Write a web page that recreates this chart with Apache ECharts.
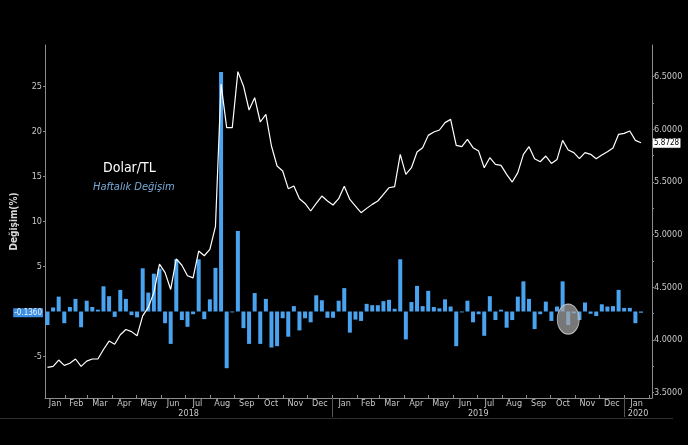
<!DOCTYPE html>
<html><head><meta charset="utf-8">
<script src="https://cdn.jsdelivr.net/npm/echarts@6/dist/echarts.min.js"></script>
<style>html,body{margin:0;padding:0;background:#000}#c{width:688px;height:445px}</style>
</head><body><div id="c"></div>
<script>
// ---- data ----
const firstWeek = Date.UTC(2018, 0, 10);
const WEEK_MS = 7 * 864e5;
const barValues = [
  -1.5, 0.45, 1.65, -1.3, 0.5, 1.4, -1.75, 1.2, 0.5, 0.2,
  2.8, 1.7, -0.6, 2.4, 1.4, -0.4, -0.65, 4.8, 2.1, 4.2,
  4.75, -1.3, -3.6, 5.8, -0.95, -1.7, -0.3, 5.8, -0.85, 1.35,
  4.85, 26.6, -6.3, -0.1, 8.95, -1.85, -3.6, 2.05, -3.6, 1.4,
  -4.0, -3.85, -0.75, -2.8, 0.6, -2.1, -0.75, -1.2, 1.8, 1.25,
  -0.7, -0.7, 1.2, 2.6, -2.35, -0.9, -1.05, 0.85, 0.7, 0.7,
  1.15, 1.3, 0.3, 5.8, -3.1, 1.05, 2.85, 0.6, 2.3, 0.5,
  0.35, 1.35, 0.55, -3.85, -0.1, 1.2, -1.2, -0.3, -2.7, 1.7,
  -0.95, 0.2, -1.8, -0.95, 1.65, 3.35, 1.4, -1.95, -0.3, 1.1,
  -1.05, 0.55, 3.35, -1.5, -0.2, -0.95, 1.0, -0.25, -0.5, 0.8,
  0.55, 0.6, 2.4, 0.4, 0.4, -1.3, -0.136
];
const priceValues = [
  3.74, 3.75, 3.81, 3.76, 3.78, 3.82, 3.75, 3.80, 3.82, 3.82,
  3.91, 3.99, 3.96, 4.05, 4.10, 4.08, 4.04, 4.23, 4.31, 4.45,
  4.72, 4.64, 4.48, 4.77, 4.71, 4.61, 4.59, 4.845, 4.80, 4.86,
  5.08, 6.43, 6.016, 6.016, 6.548, 6.412, 6.184, 6.301, 6.07, 6.143,
  5.842, 5.652, 5.605, 5.437, 5.462, 5.342, 5.297, 5.225, 5.297, 5.367,
  5.32, 5.282, 5.342, 5.46, 5.335, 5.272, 5.209, 5.25, 5.288, 5.32,
  5.383, 5.446, 5.456, 5.763, 5.573, 5.636, 5.785, 5.826, 5.943, 5.975,
  5.994, 6.064, 6.095, 5.848, 5.836, 5.905, 5.826, 5.794, 5.636, 5.731,
  5.668, 5.658, 5.573, 5.50, 5.589, 5.763, 5.836, 5.722, 5.693, 5.747,
  5.677, 5.715, 5.896, 5.804, 5.779, 5.722, 5.779, 5.763, 5.722, 5.757,
  5.788, 5.823, 5.953, 5.962, 5.984, 5.896, 5.8728
];
const monthNames = ['Jan','Feb','Mar','Apr','May','Jun','Jul','Aug','Sep','Oct','Nov','Dec'];
const leftTickValues = [-5, 5, 10, 15, 20, 25];
const rightLabelValues = [3.5, 4.0, 4.5, 5.0, 5.5, 6.0, 6.5];
const rightTickValues = [3.5, 3.75, 4.0, 4.25, 4.5, 4.75, 5.0, 5.25, 5.5, 5.75, 6.0, 6.25, 6.5];
const highlightWeek = 93;      // week index circled in the reference
const highlightLevel = -0.85;  // vertical centre of the circle (in %)
const titleText = 'Dolar/TL';
const subTitleText = 'Haftalık Değişim';
const leftAxisName = 'Değişim(%)';

const lastBar = barValues[barValues.length - 1];
const lastPrice = priceValues[priceValues.length - 1];

// ---- axis extents ----
const axisStart = Date.UTC(2018, 0, 6, 21);
const axisEnd = Date.UTC(2020, 1, 4, 18);

const weekDates = barValues.map((_, i) => firstWeek + i * WEEK_MS);

const monthStarts = [], monthMids = [];
for (let y = 2018; y <= 2020; y++) {
  for (let m = 0; m < 12; m++) {
    const s = Date.UTC(y, m, 1), e = Date.UTC(y, m + 1, 1);
    if (e <= axisStart || s >= axisEnd) continue;
    if (s > axisStart) monthStarts.push(s);
    const a = Math.max(s, axisStart), b = Math.min(e, axisEnd);
    if (b - a > 10 * 864e5) monthMids.push((a + b) / 2);
  }
}
const yearStarts = [Date.UTC(2019, 0, 1), Date.UTC(2020, 0, 1)];
const yearMids = [2018, 2019, 2020].map(y => {
  const a = Math.max(Date.UTC(y, 0, 1), axisStart), b = Math.min(Date.UTC(y + 1, 0, 1), axisEnd);
  return (a + b) / 2;
});

const FONT = "'Liberation Sans Narrow','DejaVu Sans Condensed','Liberation Sans',sans-serif";
const AX = '#8c8c8c', LAB = '#c8c8c8';
const NOLINE = {color: 'rgba(0,0,0,0)', width: 0};

const chart = echarts.init(document.getElementById('c'), null, {renderer: 'canvas'});
chart.setOption({
  backgroundColor: '#000',
  animation: false,
  textStyle: {fontFamily: FONT},
  title: [
    {text: titleText, left: 103, top: 161, padding: 0, textStyle: {color: '#fff', fontSize: 14, fontWeight: 'normal', fontFamily: FONT}},
    {text: subTitleText, left: 93, top: 182, padding: 0, textStyle: {color: '#7aaad8', fontSize: 11, fontStyle: 'italic', fontWeight: 'normal', fontFamily: FONT}}
  ],
  grid: {left: 45, right: 36, top: 45, bottom: 47, containLabel: false},
  xAxis: [
    {
      type: 'value', min: axisStart, max: axisEnd, position: 'bottom', scale: true,
      axisLine: {show: true, onZero: false, lineStyle: {color: AX, width: 1}},
      axisTick: {show: true, inside: true, length: 3, customValues: monthStarts, lineStyle: {color: AX}},
      axisLabel: {customValues: monthMids, formatter: v => monthNames[new Date(v).getUTCMonth()],
        color: LAB, fontSize: 9, margin: 1, fontFamily: FONT},
      splitLine: {show: false}
    },
    {
      type: 'value', min: axisStart, max: axisEnd, position: 'bottom', scale: true,
      axisLine: {show: false, onZero: false},
      axisTick: {show: true, length: 19, customValues: yearStarts, lineStyle: {color: '#555'}},
      axisLabel: {customValues: yearMids, formatter: v => String(new Date(v).getUTCFullYear()),
        color: LAB, fontSize: 9, margin: 11, fontFamily: FONT},
      splitLine: {show: false}
    }
  ],
  yAxis: [
    {
      type: 'value', position: 'left', min: -9.611, max: 29.611,
      axisLine: {show: true, onZero: false, lineStyle: {color: AX}},
      axisTick: {show: true, length: 2, customValues: leftTickValues, lineStyle: {color: AX}},
      axisLabel: {customValues: leftTickValues, color: LAB, fontSize: 9, margin: 3, fontFamily: FONT},
      splitLine: {show: false},
      name: leftAxisName, nameLocation: 'middle', nameRotate: 90, nameGap: 26,
      nameTextStyle: {color: '#d9d9d9', fontWeight: 'bold', fontSize: 10, fontFamily: FONT}
    },
    {
      type: 'value', position: 'right', min: 3.4497, max: 6.801,
      axisLine: {show: true, onZero: false, lineStyle: {color: AX}},
      axisTick: {show: true, length: 2, customValues: rightTickValues, lineStyle: {color: AX}},
      axisLabel: {customValues: rightLabelValues, formatter: v => v.toFixed(4), color: LAB, fontSize: 9, margin: 2, fontFamily: FONT},
      splitLine: {show: false}
    }
  ],
  series: [
    {
      type: 'bar', xAxisIndex: 0, yAxisIndex: 0, barWidth: 4, z: 2,
      data: weekDates.map((d, i) => [d, barValues[i]]),
      itemStyle: {color: '#4aa3ef'},
      markLine: {
        silent: true, symbol: ['none', 'none'], animation: false,
        lineStyle: NOLINE,
        label: {show: true, position: 'start', distance: 2, formatter: () => lastBar.toFixed(4),
          backgroundColor: '#3d8fe3', color: '#eaf3ff', fontSize: 8, padding: [1, 1, 0, 1], fontFamily: FONT},
        data: [{yAxis: lastBar}]
      },
      markPoint: {
        silent: true, animation: false,
        data: [{coord: [weekDates[highlightWeek], highlightLevel], symbol: 'circle', symbolSize: [22, 30]}],
        itemStyle: {color: 'rgba(165,165,165,0.72)', borderColor: 'rgba(215,215,215,0.8)', borderWidth: 1},
        label: {show: false}
      }
    },
    {
      type: 'line', xAxisIndex: 0, yAxisIndex: 1, z: 3,
      data: weekDates.map((d, i) => [d, priceValues[i]]),
      showSymbol: false, symbol: 'none',
      lineStyle: {color: '#ffffff', width: 1.2},
      markLine: {
        silent: true, symbol: ['none', 'none'], animation: false,
        lineStyle: NOLINE,
        label: {show: true, position: 'end', distance: 1, formatter: () => lastPrice.toFixed(4),
          backgroundColor: '#ffffff', color: '#000', fontSize: 8, padding: [1, 1, 0, 1],
          borderColor: '#888', borderWidth: 0.5, fontFamily: FONT},
        data: [{yAxis: lastPrice}]
      }
    }
  ],
  graphic: [
    {type: 'line', silent: true, shape: {x1: 0, y1: 418.5, x2: 673, y2: 418.5}, style: {stroke: '#2e2e2e', lineWidth: 1}}
  ]
});
</script>
</body></html>
